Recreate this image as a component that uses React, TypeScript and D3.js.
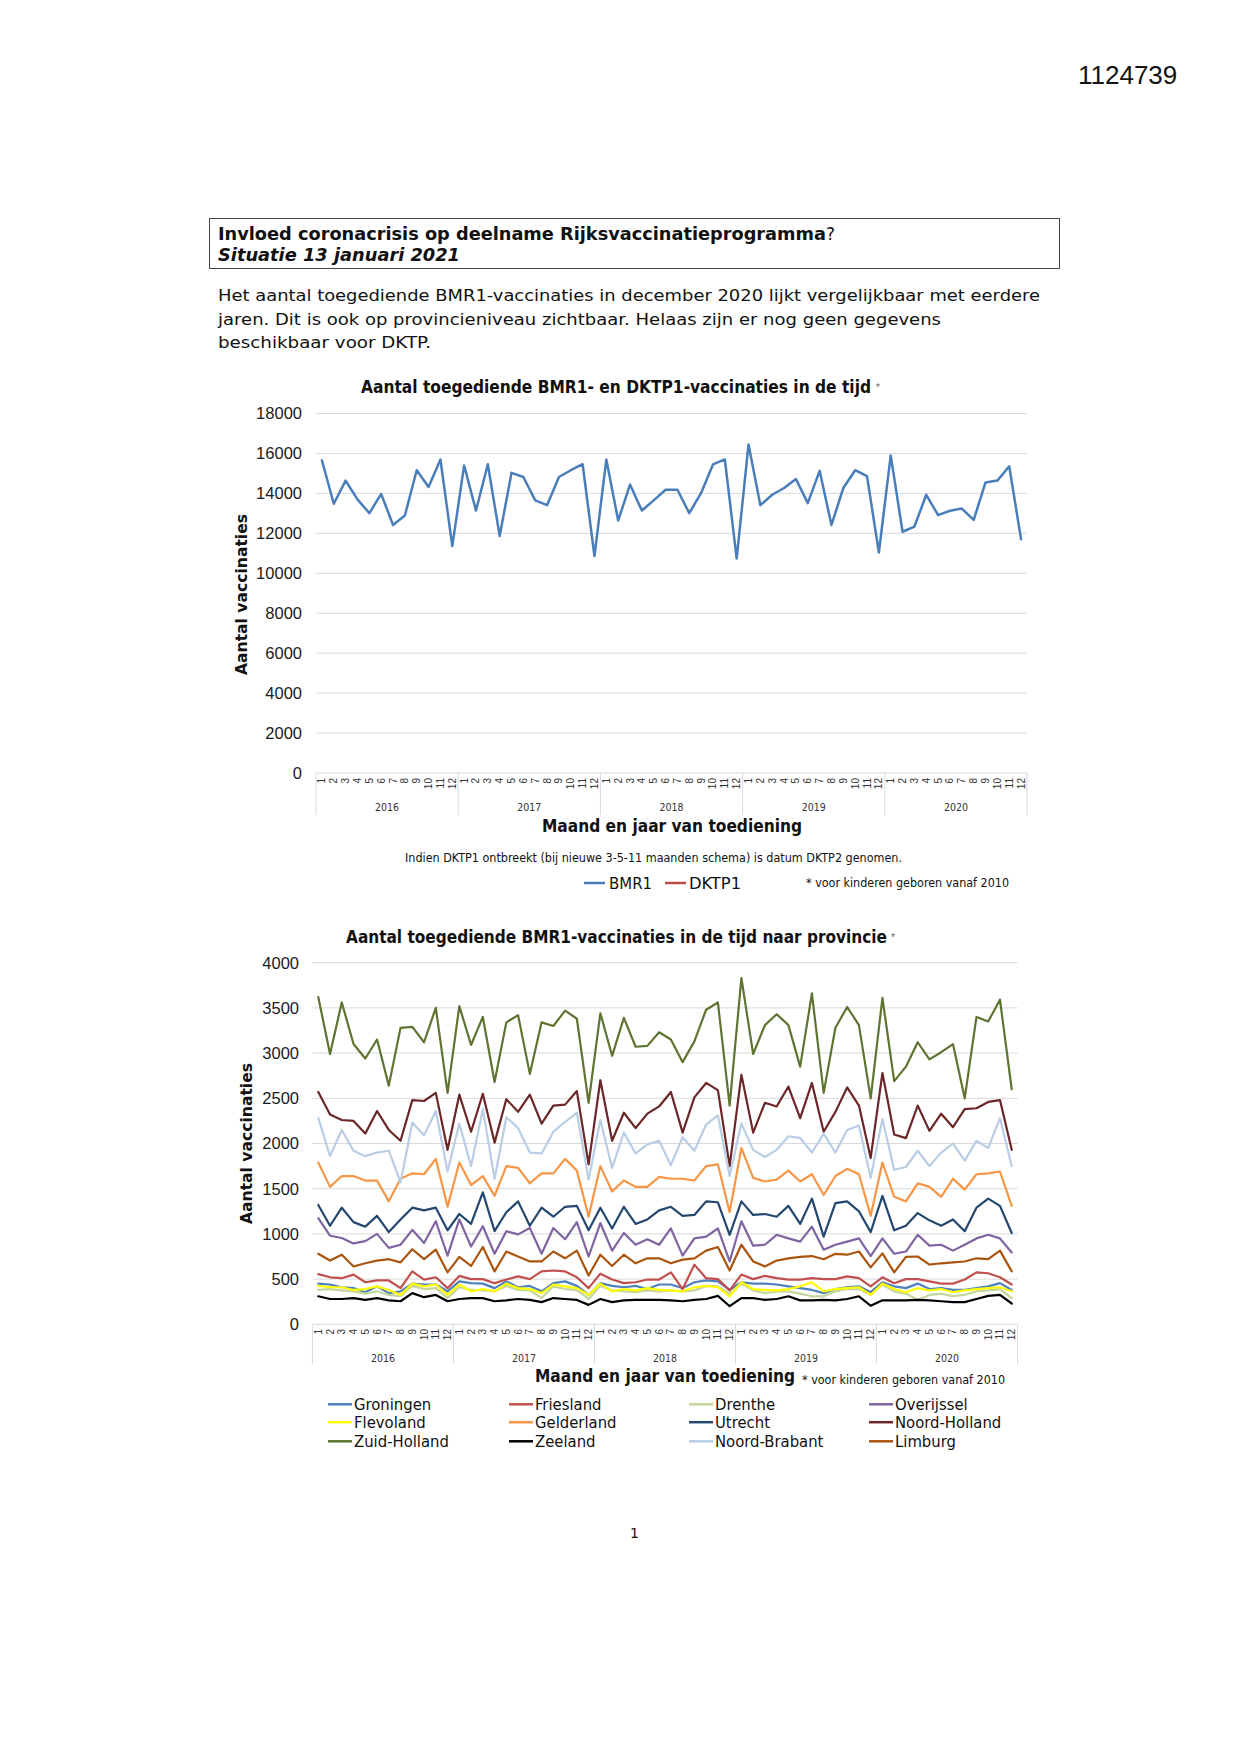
import React from 'react';
import * as d3 from 'd3';

const months = ['1', '2', '3', '4', '5', '6', '7', '8', '9', '10', '11', '12'];
const years = ['2016', '2017', '2018', '2019', '2020'];

const bmr1 = [
  15660, 13480, 14640, 13700, 13010, 13970, 12420, 12890, 15160, 14320, 15700, 11360,
  15400, 13140, 15460, 11870, 15030, 14820, 13650, 13410, 14820, 15160, 15460, 10860,
  15700, 12640, 14440, 13140, 13650, 14180, 14180, 13010, 14020, 15450, 15700, 10740,
  16450, 13410, 13930, 14270, 14720, 13510, 15130, 12420, 14270, 15160, 14860, 11040,
  15900, 12080, 12340, 13930, 12910, 13130, 13240, 12670, 14550, 14640, 15360, 11700,
];
const dktp1: number[] = [];

const groningen = [
  450, 440, 410, 400, 355, 420, 345, 365, 450, 440, 440, 365,
  475, 455, 450, 400, 475, 410, 425, 365, 455, 475, 425, 325,
  455, 425, 410, 425, 390, 440, 440, 400, 465, 485, 475, 380,
  465, 450, 450, 440, 420, 400, 380, 345, 390, 410, 420, 355,
  465, 420, 400, 450, 390, 400, 380, 380, 400, 420, 455, 380,
];
const friesland = [
  555, 520, 510, 550, 465, 485, 485, 400, 585, 495, 520, 400,
  535, 500, 500, 455, 495, 530, 500, 585, 595, 585, 520, 400,
  560, 495, 455, 465, 495, 495, 575, 390, 660, 510, 500, 375,
  550, 500, 535, 510, 495, 495, 510, 500, 500, 530, 510, 420,
  520, 455, 500, 500, 475, 450, 450, 495, 575, 565, 520, 440,
];
const drenthe = [
  380, 390, 375, 365, 340, 365, 325, 310, 425, 390, 400, 290,
  410, 380, 375, 365, 425, 380, 375, 290, 420, 390, 380, 280,
  425, 375, 365, 355, 375, 365, 375, 365, 375, 425, 420, 340,
  450, 375, 345, 365, 365, 340, 310, 310, 365, 390, 390, 325,
  440, 365, 340, 270, 325, 340, 310, 325, 365, 375, 390, 290,
];
const overijssel = [
  1175, 980, 955, 895, 920, 1000, 845, 880, 1045, 900, 1140, 760,
  1160, 860, 1085, 780, 1030, 995, 1065, 780, 1065, 940, 1130, 750,
  1120, 815, 1010, 880, 940, 880, 1060, 760, 950, 970, 1060, 695,
  1140, 870, 880, 990, 950, 915, 1080, 825, 880, 915, 950, 755,
  950, 780, 805, 990, 870, 880, 815, 880, 950, 990, 950, 795,
];
const flevoland = [
  425, 410, 410, 380, 390, 420, 380, 325, 450, 420, 440, 325,
  440, 365, 390, 365, 450, 400, 390, 345, 440, 420, 400, 325,
  450, 365, 390, 375, 400, 380, 375, 365, 410, 425, 410, 310,
  465, 390, 380, 375, 390, 420, 465, 365, 390, 400, 410, 325,
  450, 390, 355, 400, 375, 390, 355, 375, 390, 400, 410, 365,
];
const gelderland = [
  1790, 1520, 1640, 1640, 1590, 1590, 1360, 1610, 1670, 1660, 1830, 1300,
  1790, 1540, 1640, 1420, 1750, 1730, 1560, 1670, 1670, 1830, 1700, 1190,
  1750, 1470, 1590, 1520, 1520, 1630, 1610, 1610, 1590, 1750, 1770, 1240,
  1950, 1620, 1580, 1600, 1700, 1580, 1660, 1430, 1640, 1720, 1660, 1200,
  1790, 1410, 1360, 1560, 1520, 1410, 1610, 1490, 1660, 1670, 1690, 1310,
];
const utrecht = [
  1320, 1090, 1290, 1130, 1080, 1200, 1020, 1160, 1290, 1260, 1290, 1040,
  1220, 1110, 1460, 1030, 1240, 1360, 1090, 1290, 1190, 1300, 1310, 1040,
  1290, 1060, 1300, 1110, 1160, 1260, 1300, 1200, 1210, 1360, 1350, 990,
  1360, 1210, 1220, 1190, 1310, 1110, 1390, 970, 1340, 1360, 1250, 1020,
  1420, 1040, 1090, 1230, 1150, 1090, 1160, 1030, 1290, 1390, 1310, 1010,
];
const noordHolland = [
  2570, 2320, 2260, 2250, 2110, 2360, 2150, 2030, 2480, 2470, 2560, 1930,
  2540, 2130, 2550, 2010, 2490, 2350, 2540, 2220, 2420, 2430, 2580, 1770,
  2700, 2030, 2340, 2170, 2330, 2410, 2570, 2120, 2510, 2670, 2590, 1750,
  2760, 2120, 2450, 2410, 2630, 2280, 2670, 2130, 2350, 2620, 2420, 1840,
  2780, 2100, 2060, 2420, 2140, 2330, 2180, 2380, 2390, 2460, 2480, 1930,
];
const zuidHolland = [
  3620, 2990, 3560, 3100, 2940, 3150, 2640, 3280, 3290, 3120, 3500, 2560,
  3520, 3090, 3400, 2680, 3340, 3420, 2770, 3340, 3300, 3470, 3380, 2450,
  3440, 2970, 3390, 3070, 3080, 3230, 3150, 2900, 3130, 3480, 3560, 2420,
  3830, 2990, 3310, 3430, 3310, 2850, 3660, 2560, 3280, 3510, 3310, 2500,
  3610, 2690, 2850, 3120, 2930, 3010, 3100, 2500, 3400, 3350, 3590, 2600,
];
const zeeland = [
  310, 280, 280, 290, 270, 290, 265, 255, 345, 300, 325, 255,
  280, 290, 290, 255, 265, 280, 270, 245, 290, 280, 270, 215,
  280, 245, 265, 270, 270, 270, 265, 255, 270, 280, 315, 200,
  290, 290, 270, 280, 310, 265, 265, 270, 265, 280, 310, 205,
  265, 265, 265, 270, 265, 255, 245, 245, 280, 315, 325, 230,
];
const noordBrabant = [
  2280, 1860, 2150, 1920, 1860, 1900, 1920, 1570, 2230, 2090, 2360, 1690,
  2220, 1750, 2380, 1610, 2290, 2170, 1900, 1890, 2130, 2240, 2340, 1600,
  2260, 1730, 2120, 1890, 1990, 2030, 1760, 2070, 1920, 2210, 2310, 1640,
  2220, 1930, 1850, 1930, 2080, 2060, 1900, 2110, 1900, 2150, 2200, 1620,
  2270, 1710, 1740, 1920, 1750, 1900, 2000, 1810, 2030, 1950, 2280, 1750,
];
const limburg = [
  780, 705, 770, 640, 675, 705, 720, 685, 830, 720, 825, 575,
  745, 645, 855, 585, 805, 750, 695, 695, 805, 730, 815, 540,
  770, 645, 770, 675, 730, 730, 675, 715, 730, 815, 855, 595,
  880, 695, 640, 705, 730, 745, 755, 720, 780, 770, 805, 630,
  785, 575, 745, 750, 660, 675, 685, 695, 730, 720, 815, 585,
];

const provinceNames = [
  'Groningen', 'Friesland', 'Drenthe', 'Overijssel',
  'Flevoland', 'Gelderland', 'Utrecht', 'Noord-Holland',
  'Zuid-Holland', 'Zeeland', 'Noord-Brabant', 'Limburg',
];
const provinceValues = [
  groningen, friesland, drenthe, overijssel,
  flevoland, gelderland, utrecht, noordHolland,
  zuidHolland, zeeland, noordBrabant, limburg,
];
const provinceColors = [
  '#4F81BD', '#C0504D', '#C3D69B', '#8064A2',
  '#FFFF00', '#F79646', '#24476F', '#6B2627',
  '#5E7430', '#000000', '#B9CDE5', '#A9550F',
];

const topTicks = [0, 2000, 4000, 6000, 8000, 10000, 12000, 14000, 16000, 18000];
const bottomTicks = [0, 500, 1000, 1500, 2000, 2500, 3000, 3500, 4000];

const categories = years.flatMap((y) => months.map((m) => `${y}-${m}`));

const NARROW = "'Liberation Sans Narrow','DejaVu Sans Condensed','Arial Narrow',sans-serif";
const SANS = "'Liberation Sans',Arial,sans-serif";
const VERDANA = "'DejaVu Sans',Verdana,sans-serif";
const GRID = '#d9d9d9';

type AxisProps = {
  left: number; right: number; top: number; bottom: number;
  max: number; ticks: number[]; labelX: number;
  series: { values: number[]; color: string; width: number }[];
  monthY: number; yearY: number; sepBottom: number;
};

function Chart({ left, right, top, bottom, max, ticks, labelX, series, monthY, yearY, sepBottom }: AxisProps) {
  const x = d3.scaleBand<string>().domain(categories).range([left, right]).paddingInner(0).paddingOuter(0);
  const bw = x.bandwidth();
  const cx = (i: number) => (x(categories[i]) as number) + bw / 2;
  const y = d3.scaleLinear().domain([0, max]).range([bottom, top]);
  const line = d3.line<number>().x((_, i) => cx(i)).y((v) => y(v));
  const yearBand = d3.scaleBand<string>().domain(years).range([left, right]);
  return (
    <g>
      {ticks.map((t) => (
        <g key={t}>
          <line x1={left} x2={right} y1={y(t)} y2={y(t)} stroke={GRID} strokeWidth={1} />
          <text x={labelX} y={y(t)} dy="0.36em" textAnchor="end" fontFamily={SANS} fontSize={16.5} fill="#1a1a1a">{t}</text>
        </g>
      ))}
      {years.map((yr) => (
        <text key={yr} x={(yearBand(yr) as number) + yearBand.bandwidth() / 2} y={yearY} textAnchor="middle"
          fontFamily={NARROW} fontSize={10.5} fill="#333">{yr}</text>
      ))}
      {d3.range(years.length + 1).map((k) => {
        const xx = k < years.length ? (yearBand(years[k]) as number) : right;
        return <line key={k} x1={xx} x2={xx} y1={bottom} y2={sepBottom} stroke={GRID} strokeWidth={1} />;
      })}
      {categories.map((c, i) => (
        <text key={c} transform={`translate(${cx(i)},${monthY}) rotate(-90)`} dy="0.35em" textAnchor="end"
          fontFamily={SANS} fontSize={10} fill="#333">{months[i % 12]}</text>
      ))}
      {series.map((s, k) => (
        <path key={k} d={line(s.values) || ''} fill="none" stroke={s.color} strokeWidth={s.width}
          strokeLinejoin="round" strokeLinecap="round" />
      ))}
    </g>
  );
}

export default function App() {
  return (
    <svg width={1241} height={1754} viewBox="0 0 1241 1754"
      style={{ position: 'absolute', left: 0, top: 0, background: '#fff' }}>
      <rect x={0} y={0} width={1241} height={1754} fill="#fff" />
      <text x={1078} y={84} fontFamily={SANS} fontSize={26} fill="#111">1124739</text>

      <rect x={209.5} y={218.5} width={850} height={50} fill="none" stroke="#444" strokeWidth={1} />
      <text x={218} y={239.5} fontFamily={VERDANA} fontWeight="bold" fontSize={17} textLength={608} lengthAdjust="spacingAndGlyphs" fill="#111">Invloed coronacrisis op deelname Rijksvaccinatieprogramma</text>
      <text x={826} y={239.5} fontFamily={VERDANA} fontSize={17} fill="#111">?</text>
      <text x={218} y={261} fontFamily={VERDANA} fontWeight="bold" fontStyle="italic" fontSize={17} textLength={242} lengthAdjust="spacingAndGlyphs" fill="#111">Situatie 13 januari 2021</text>

      <text x={218} y={301} fontFamily={VERDANA} fontSize={16} textLength={822} lengthAdjust="spacingAndGlyphs" fill="#111">Het aantal toegediende BMR1-vaccinaties in december 2020 lijkt vergelijkbaar met eerdere</text>
      <text x={218} y={324.5} fontFamily={VERDANA} fontSize={16} textLength={723} lengthAdjust="spacingAndGlyphs" fill="#111">jaren. Dit is ook op provincieniveau zichtbaar. Helaas zijn er nog geen gegevens</text>
      <text x={218} y={348} fontFamily={VERDANA} fontSize={16} textLength={213} lengthAdjust="spacingAndGlyphs" fill="#111">beschikbaar voor DKTP.</text>

      {/* Top chart */}
      <text x={361} y={392.5} fontFamily={NARROW} fontWeight="bold" fontSize={17} textLength={510} lengthAdjust="spacingAndGlyphs" fill="#111">Aantal toegediende BMR1- en DKTP1-vaccinaties in de tijd</text>
      <text x={876} y={391} fontFamily={SANS} fontSize={10} fill="#666">*</text>
      <text transform="translate(247,594.5) rotate(-90)" textAnchor="middle" fontFamily={VERDANA} fontWeight="bold" fontSize={15.5} textLength={161} lengthAdjust="spacingAndGlyphs" fill="#111">Aantal vaccinaties</text>
      <Chart left={316} right={1027} top={413.5} bottom={773} max={18000} ticks={topTicks} labelX={302}
        series={[{ values: bmr1, color: '#4A7EBB', width: 2.5 }, { values: dktp1, color: '#BE4B48', width: 2.5 }]}
        monthY={778} yearY={811} sepBottom={815} />
      <text x={672} y={832} textAnchor="middle" fontFamily={NARROW} fontWeight="bold" fontSize={18} textLength={260} lengthAdjust="spacingAndGlyphs" fill="#111">Maand en jaar van toediening</text>
      <text x={405} y={862} fontFamily={NARROW} fontSize={11.5} textLength={497} lengthAdjust="spacingAndGlyphs" fill="#111">Indien DKTP1 ontbreekt (bij nieuwe 3-5-11 maanden schema) is datum DKTP2 genomen.</text>
      <line x1={584} x2={605} y1={883} y2={883} stroke="#4A7EBB" strokeWidth={2.5} />
      <text x={609} y={888.5} fontFamily={NARROW} fontSize={16} textLength={43} lengthAdjust="spacingAndGlyphs" fill="#111">BMR1</text>
      <line x1={665} x2={686} y1={883} y2={883} stroke="#BE4B48" strokeWidth={2.5} />
      <text x={689} y={888.5} fontFamily={NARROW} fontSize={16} textLength={52} lengthAdjust="spacingAndGlyphs" fill="#111">DKTP1</text>
      <text x={806} y={887} fontFamily={NARROW} fontSize={11.5} textLength={203} lengthAdjust="spacingAndGlyphs" fill="#111">* voor kinderen geboren vanaf 2010</text>

      {/* Bottom chart */}
      <text x={346} y={942.5} fontFamily={NARROW} fontWeight="bold" fontSize={17} textLength={541} lengthAdjust="spacingAndGlyphs" fill="#111">Aantal toegediende BMR1-vaccinaties in de tijd naar provincie</text>
      <text x={891} y={941} fontFamily={SANS} fontSize={10} fill="#666">*</text>
      <text transform="translate(252,1143.5) rotate(-90)" textAnchor="middle" fontFamily={VERDANA} fontWeight="bold" fontSize={15.5} textLength={161} lengthAdjust="spacingAndGlyphs" fill="#111">Aantal vaccinaties</text>
      <Chart left={312.4} right={1017.6} top={962.7} bottom={1324.3} max={4000} ticks={bottomTicks} labelX={299}
        series={provinceValues.map((v, k) => ({ values: v, color: provinceColors[k], width: 2.2 }))}
        monthY={1329} yearY={1362} sepBottom={1364} />
      <text x={665} y={1382} textAnchor="middle" fontFamily={NARROW} fontWeight="bold" fontSize={18} textLength={260} lengthAdjust="spacingAndGlyphs" fill="#111">Maand en jaar van toediening</text>
      <text x={802} y={1384} fontFamily={NARROW} fontSize={11.5} textLength={203} lengthAdjust="spacingAndGlyphs" fill="#111">* voor kinderen geboren vanaf 2010</text>
      {provinceNames.map((name, k) => {
        const col = k % 4;
        const row = Math.floor(k / 4);
        const lx = [328, 509, 689, 869][col];
        const ly = [1404.3, 1422.2, 1441.3][row];
        return (
          <g key={name}>
            <line x1={lx} x2={lx + 24} y1={ly} y2={ly} stroke={provinceColors[k]} strokeWidth={2.5} />
            <text x={lx + 26} y={ly + 5.5} fontFamily={NARROW} fontSize={16.5} fill="#111">{name}</text>
          </g>
        );
      })}

      <text x={634.5} y={1538} textAnchor="middle" fontFamily={VERDANA} fontSize={14} fill="#111">1</text>
    </svg>
  );
}
